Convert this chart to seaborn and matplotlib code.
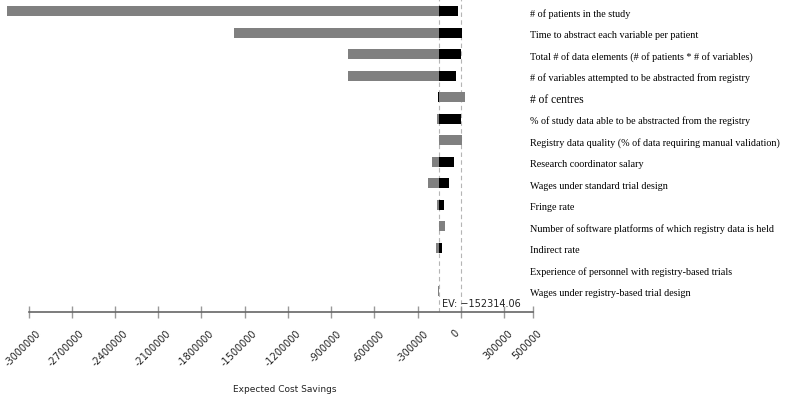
import matplotlib
matplotlib.use("Agg")
import matplotlib.pyplot as plt
import matplotlib.transforms as mtransforms
import seaborn as sns
import numpy as np
import pandas as pd

# ---------------- data ----------------
variables = [
    "# of patients in the study",
    "Time to abstract each variable per patient",
    "Total # of data elements (# of patients * # of variables)",
    "# of variables attempted to be abstracted from registry",
    "# of centres",
    "% of study data able to be abstracted from the registry",
    "Registry data quality (% of data requiring manual validation)",
    "Research coordinator salary",
    "Wages under standard trial design",
    "Fringe rate",
    "Number of software platforms of which registry data is held",
    "Indirect rate",
    "Experience of personnel with registry-based trials",
    "Wages under registry-based trial design",
]
gray_values = [-3150000, -1575000, -780000, -780000, 28000, -168000, 5500,
               -204000, -230000, -168000, -112000, -170000, -152314.06, -160000]
black_values = [-22000, 5000, -1000, -33000, -161000, 2000, -155000,
                -47000, -82000, -119000, -152314.06, -130000, -152314.06, -152314.06]
ev_value = -152314.06
tick_values = [-3000000, -2700000, -2400000, -2100000, -1800000, -1500000,
               -1200000, -900000, -600000, -300000, 0, 300000, 500000]
tick_labels = ["-3000000", "-2700000", "-2400000", "-2100000", "-1800000",
               "-1500000", "-1200000", "-900000", "-600000", "-300000", "0",
               "300000", "500000"]
x_label = "Expected Cost Savings"
ev_label = "EV: \u2212152314.06"

# ---------------- figure ----------------
sns.set_theme(style="white")
plt.rcParams["font.family"] = ["DejaVu Sans"]

W, H = 786, 402
fig = plt.figure(figsize=(W / 100, H / 100), dpi=100)
ax_bottom_px = 312.5
ax = fig.add_axes([4 / W, 1 - ax_bottom_px / H, 529 / W, ax_bottom_px / H])

df = pd.DataFrame({
    "variable": variables,
    "gray_w": np.array(gray_values) - ev_value,
    "black_w": np.array(black_values) - ev_value,
})

sns.barplot(data=df, x="gray_w", y="variable", orient="h", color="#808080",
            left=ev_value, width=0.47, errorbar=None, ax=ax,
            linewidth=0, saturation=1)
sns.barplot(data=df, x="black_w", y="variable", orient="h", color="#000000",
            left=ev_value, width=0.47, errorbar=None, ax=ax,
            linewidth=0, saturation=1)

ax.set_xlim(-3170000, 500000)
ax.set_ylim(13.963, -0.572)

# dashed reference lines
ax.axvline(ev_value, color="#b5b5b5", lw=0.8, ls=(0, (4, 3)), zorder=0)
ax.axvline(0, color="#b5b5b5", lw=0.8, ls=(0, (4, 3)), zorder=0)

# spines / axis
for s in ["top", "right", "left"]:
    ax.spines[s].set_visible(False)
ax.spines["bottom"].set_bounds(-3000000, 500000)
ax.spines["bottom"].set_color("#666666")
ax.spines["bottom"].set_linewidth(1.2)
ax.set_yticks([])
ax.set_ylabel("")
ax.set_xlabel("")
ax.set_xticks(tick_values)
ax.set_xticklabels(tick_labels, rotation=45, ha="center", va="top",
                   fontsize=7, color="#222222")
ax.tick_params(axis="x", bottom=True, direction="inout", length=8, width=1,
               color="#999999", pad=7.5)
shift = mtransforms.ScaledTranslation(-5.5 / 100, 0, fig.dpi_scale_trans)
for lab in ax.get_xticklabels():
    lab.set_transform(lab.get_transform() + shift)

# right-hand variable labels
trans = mtransforms.blended_transform_factory(fig.transFigure, ax.transData)
for i, name in enumerate(variables):
    ax.text(530 / W, i + 0.08, name, transform=trans, ha="left", va="center",
            fontsize=8.3 if name == "# of centres" else 7.3,
            family="Liberation Serif", color="black")

# EV annotation
ev_shift = mtransforms.ScaledTranslation(3.5 / 100, 0, fig.dpi_scale_trans)
ax.text(ev_value, 13.55, ev_label, transform=ax.transData + ev_shift,
        ha="left", va="center", fontsize=7, color="#222222")

fig.text(285 / W, 1 - 390 / H, x_label, ha="center", va="center",
         fontsize=6.5, color="#222222")

fig.savefig("out.png", dpi=100)
